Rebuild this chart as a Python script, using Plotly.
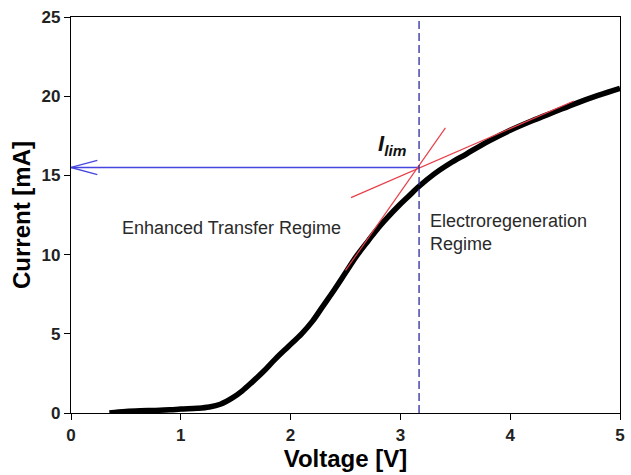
import plotly.graph_objects as go

# I-V curve data
voltage = [0.35, 0.5, 0.7, 0.9, 1.0, 1.15, 1.26, 1.36, 1.47, 1.56, 1.65, 1.75, 1.86, 1.98, 2.1,
           2.2, 2.29, 2.4, 2.5, 2.6, 2.71, 2.8, 2.89, 2.98, 3.07, 3.16, 3.3, 3.45, 3.6, 3.8,
           4.0, 4.2, 4.4, 4.6, 4.8, 5.0]
current = [0.0, 0.1, 0.15, 0.2, 0.25, 0.3, 0.38, 0.55, 0.95, 1.4, 1.95, 2.6, 3.4, 4.2, 5.0,
           5.8, 6.7, 7.8, 8.85, 9.9, 10.9, 11.7, 12.4, 13.05, 13.65, 14.25, 15.05, 15.75, 16.35, 17.15,
           17.85, 18.45, 19.0, 19.55, 20.05, 20.5]

# tangent lines
tan1_x = [2.5, 3.41]
tan1_y = [9.0, 18.0]
tan2_x = [2.55, 4.58]
tan2_y = [13.6, 19.7]

v_lim = 3.17
i_lim = 15.5

x_ticks = [0, 1, 2, 3, 4, 5]
y_ticks = [0, 5, 10, 15, 20, 25]

FONT = "Liberation Sans, Arial, sans-serif"

fig = go.Figure()

# horizontal blue arrow line
fig.add_trace(go.Scatter(x=[0, v_lim], y=[i_lim, i_lim], mode="lines",
                         line=dict(color="#4646e0", width=1.3), hoverinfo="skip"))
# open arrowhead
ah_dx, ah_dy = 0.24, 0.45
fig.add_trace(go.Scatter(x=[ah_dx, 0, ah_dx], y=[i_lim + ah_dy, i_lim, i_lim - ah_dy], mode="lines",
                         line=dict(color="#4646e0", width=1.3), hoverinfo="skip"))

# curve
fig.add_trace(go.Scatter(x=voltage, y=current, mode="lines",
                         line=dict(color="black", width=5.5, shape="spline"),
                         hoverinfo="skip"))

# tangents
fig.add_trace(go.Scatter(x=tan1_x, y=tan1_y, mode="lines",
                         line=dict(color="#e8404a", width=1.2), hoverinfo="skip"))
fig.add_trace(go.Scatter(x=tan2_x, y=tan2_y, mode="lines",
                         line=dict(color="#e8404a", width=1.2), hoverinfo="skip"))

# dashed vertical line
fig.add_shape(type="line", x0=v_lim, x1=v_lim, y0=0, y1=1, xref="x", yref="paper",
              line=dict(color="#2c2ca0", width=1.3, dash="8px,4px"))

fig.add_annotation(x=2.93, y=16.9, text="<b><i>I</i></b><sub><b><i>lim</i></b></sub>",
                   showarrow=False, font=dict(family=FONT, size=22, color="#111"))
fig.add_annotation(x=1.46, y=11.7, text="Enhanced Transfer Regime", showarrow=False,
                   font=dict(family=FONT, size=18, color="#2a2a2a"))
fig.add_annotation(x=3.25, y=11.4, text="Electroregeneration<br>Regime", showarrow=False,
                   xanchor="left", align="left",
                   font=dict(family=FONT, size=18, color="#2a2a2a"))

fig.update_layout(
    width=631, height=475,
    margin=dict(l=71, r=6, t=17, b=62),
    paper_bgcolor="white", plot_bgcolor="white",
    showlegend=False,
    font=dict(family=FONT, color="black"),
)
fig.update_xaxes(range=[0, 5], tickvals=x_ticks,
                 ticks="outside", ticklen=6, tickwidth=1.3, tickcolor="black",
                 showline=True, linecolor="black", linewidth=1.3, mirror=True,
                 showgrid=False, zeroline=False,
                 tickfont=dict(family=FONT, size=17, color="#222", weight="bold"),
                 title=dict(text="<b>Voltage [V]</b>", font=dict(family=FONT, size=24), standoff=0))
fig.update_yaxes(range=[0, 25], tickvals=y_ticks,
                 ticks="outside", ticklen=6, tickwidth=1.3, tickcolor="black",
                 showline=True, linecolor="black", linewidth=1.3, mirror=True,
                 showgrid=False, zeroline=False,
                 tickfont=dict(family=FONT, size=17, color="#222", weight="bold"),
                 title=dict(text="<b>Current [mA]</b>", font=dict(family=FONT, size=24), standoff=4))

fig.write_html("out.html")
